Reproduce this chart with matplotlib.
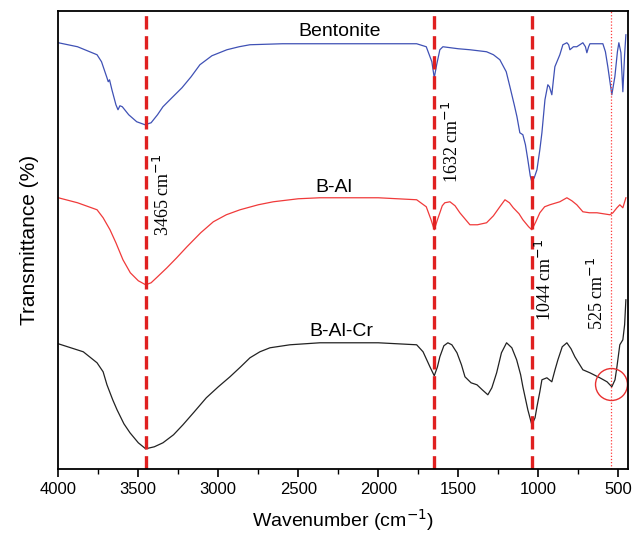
import matplotlib
matplotlib.use("Agg")
import matplotlib.pyplot as plt

plt.rcParams['font.family'] = ['Liberation Sans', 'DejaVu Sans']

# wavenumber (cm-1) and offset transmittance (arb. units)
bent_wn = [4000, 3880, 3758, 3730, 3696, 3688, 3680, 3665, 3640, 3627, 3615, 3600, 3560, 3510,
           3458, 3420, 3380, 3346, 3290, 3227, 3170, 3115, 3040, 2946, 2870, 2802, 2600, 2365,
           2000, 1760, 1700, 1665, 1650, 1635, 1615, 1596, 1500, 1427, 1323, 1280, 1240, 1200,
           1177, 1150, 1133, 1115, 1096, 1080, 1065, 1050, 1040, 1025, 1008, 990, 977, 958, 940,
           930, 915, 905, 896, 865, 846, 821, 810, 802, 780, 759, 721, 705, 696, 685, 677, 596,
           580, 565, 540, 521, 505, 496, 483, 471, 460, 452]
bent_t = [426, 422, 414, 407, 391, 387, 389, 379, 364, 359, 363, 362, 354, 347,
          344, 346, 354, 362, 371, 381, 392, 404, 413, 419, 422, 424, 425, 425,
          425, 425, 422, 407, 391, 404, 419, 422, 420, 419, 417, 414, 409, 397,
          382, 364, 352, 336, 334, 324, 309, 293, 287, 291, 299, 319, 336, 369, 384,
          382, 374, 389, 402, 414, 424, 426, 424, 419, 422, 422, 426, 422, 416, 422, 425, 425,
          417, 402, 374, 392, 417, 426, 416, 377, 414, 434]

bal_wn = [4000, 3880, 3758, 3720, 3677, 3640, 3596, 3550, 3500, 3454, 3420, 3380, 3321, 3260,
          3196, 3110, 3031, 2950, 2864, 2750, 2656, 2500, 2365, 2000, 1760, 1700, 1670, 1650,
          1630, 1600, 1584, 1552, 1520, 1490, 1427, 1380, 1323, 1280, 1240, 1208, 1180, 1156,
          1120, 1096, 1060, 1040, 1015, 990, 960, 927, 865, 821, 790, 759, 721, 680, 633, 552,
          533, 508, 490, 471, 452]
bal_t = [271, 266, 259, 251, 239, 226, 209, 196, 188, 184, 186, 192, 201, 211,
         222, 236, 247, 254, 259, 264, 267, 270, 271, 271, 269, 262, 249, 239,
         249, 263, 266, 267, 263, 256, 244, 244, 246, 253, 262, 269, 266, 261,
         255, 249, 242, 239, 247, 256, 262, 264, 267, 271, 268, 264, 257, 256, 256, 254,
         256, 261, 264, 261, 271]

balcr_wn = [4000, 3844, 3758, 3720, 3696, 3660, 3633, 3590, 3552, 3500, 3454, 3400, 3346, 3280,
            3221, 3150, 3075, 3000, 2927, 2860, 2802, 2740, 2677, 2552, 2365, 2000, 1760, 1720,
            1677, 1650, 1630, 1615, 1590, 1565, 1540, 1508, 1480, 1458, 1420, 1383, 1350, 1315,
            1290, 1260, 1230, 1198, 1165, 1135, 1110, 1096, 1065, 1040, 1020, 1008, 990, 977,
            946, 915, 895, 877, 850, 821, 795, 771, 721, 677, 615, 570, 540, 520, 508, 490, 471,
            460, 452]
balcr_t = [125, 117, 106, 97, 84, 69, 59, 45, 36, 26, 20, 22, 26, 34,
           44, 57, 71, 82, 92, 102, 111, 117, 121, 124, 126, 126, 124, 117,
           102, 93, 102, 112, 123, 126, 124, 116, 104, 92, 86, 84, 79, 74,
           81, 96, 116, 126, 121, 109, 94, 82, 59, 44, 51, 62, 77, 89,
           91, 87, 99, 109, 122, 126, 120, 112, 99, 96, 91, 87, 82, 89, 102, 124, 129,
           144, 169]

names = ['Bentonite', 'B-Al', 'B-Al-Cr']
peak_lines = [3455, 1650, 1040]
peak_labels = ['3465 cm$^{-1}$', '1632 cm$^{-1}$', '1044 cm$^{-1}$', '525 cm$^{-1}$']
band_525 = 545

fig = plt.figure(figsize=(6.34, 5.37), dpi=100)
ax = fig.add_axes([0.092, 0.127, 0.899, 0.853])

ax.plot(bent_wn, bent_t, color='#3f51b5', lw=0.9)
ax.plot(bal_wn, bal_t, color='#f03a3a', lw=0.9)
ax.plot(balcr_wn, balcr_t, color='#222222', lw=0.9)

for p in peak_lines:
    ax.axvline(p, color='#e02020', lw=2.4, dashes=(4, 2))
ax.axvline(band_525, color='#ff3b3b', lw=0.9, ls=(0, (1, 1.5)))
ax.plot([band_525], [85], marker='o', ms=23, mfc='none', mec='#e83030', mew=1.0)

ax.text(2240, 437, names[0], fontsize=14, ha='center', va='center')
ax.text(2280, 281, names[1], fontsize=14, ha='center', va='center')
ax.text(2232, 137, names[2], fontsize=14, ha='center', va='center')

serif = ['Liberation Serif', 'DejaVu Serif']
ax.text(3345, 274, peak_labels[0], rotation=90, fontsize=13, family=serif, ha='center', va='center')
ax.text(1539, 327, peak_labels[1], rotation=90, fontsize=13, family=serif, ha='center', va='center')
ax.text(958, 189, peak_labels[2], rotation=90, fontsize=13, family=serif, ha='center', va='center')
ax.text(633, 175, peak_labels[3], rotation=90, fontsize=13, family=serif, ha='center', va='center')

ax.set_xlim(4000, 437)
ax.set_ylim(0, 458)
ax.set_yticks([])
ax.set_xticks([4000, 3500, 3000, 2500, 2000, 1500, 1000, 500])
ax.set_xticks([3750, 3250, 2750, 2250, 1750, 1250, 750], minor=True)
ax.tick_params(axis='x', direction='out', length=6, width=1.2, labelsize=12)
ax.tick_params(axis='x', which='minor', direction='out', length=3.5, width=1.0)
for s in ax.spines.values():
    s.set_linewidth(1.3)

ax.set_xlabel('Wavenumber (cm$^{-1}$)', fontsize=14, labelpad=7)
ax.set_ylabel('Transmittance (%)', fontsize=15, labelpad=14)

fig.savefig('out.png', dpi=100)
